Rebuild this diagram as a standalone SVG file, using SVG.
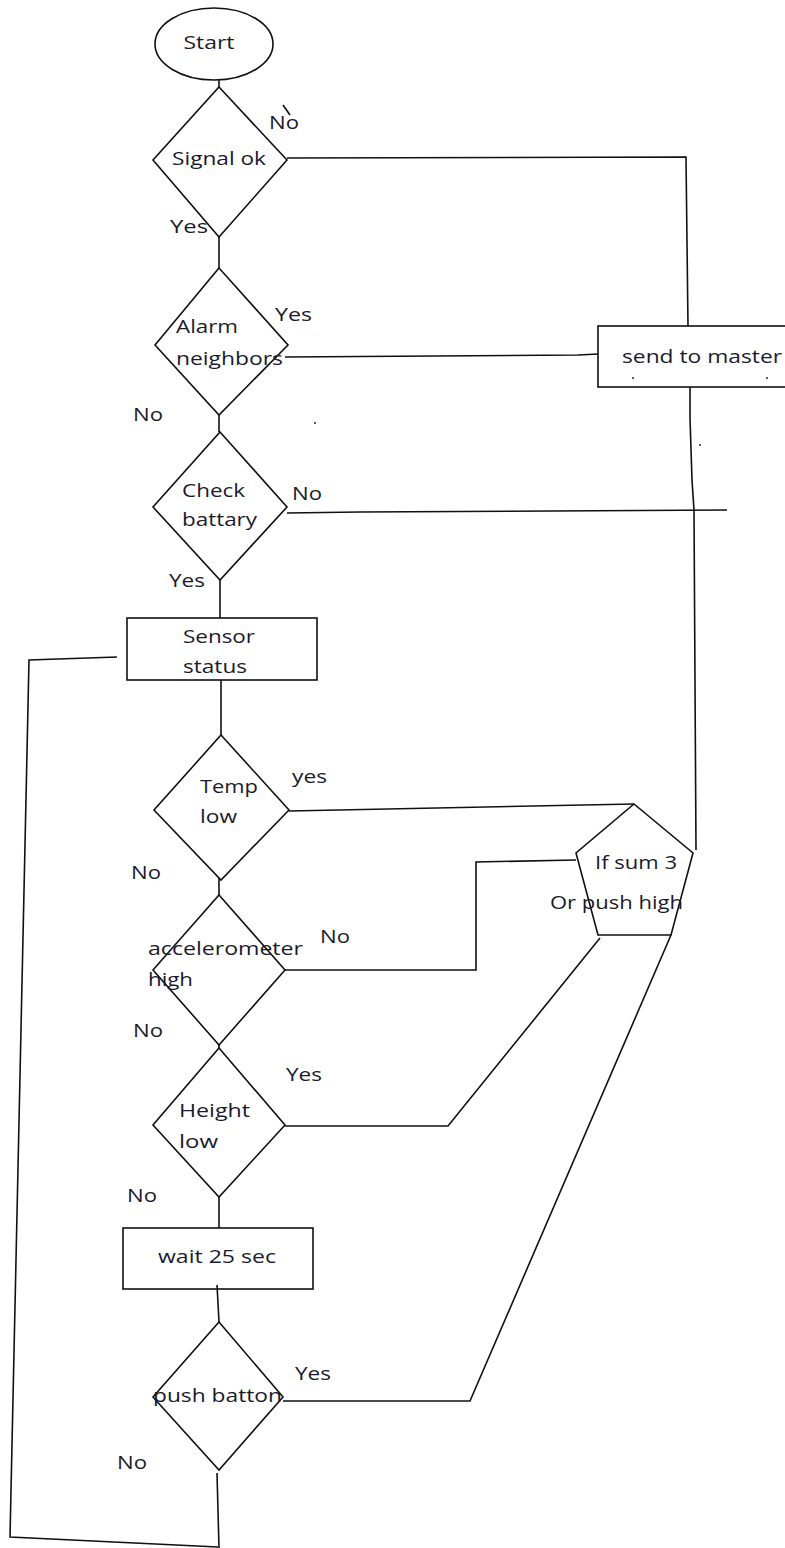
<svg xmlns="http://www.w3.org/2000/svg" width="785" height="1548" viewBox="0 0 785 1548">
<style>
.s{fill:none;stroke:#111;stroke-width:1.6;stroke-linejoin:miter}
.t{font-family:"Open Sans","Liberation Sans",sans-serif;font-size:19px;fill:#1a1a2e}
.c{text-anchor:middle}
</style>
<rect width="785" height="1548" fill="#fff"/>
<g id="connectors" class="s">
<path d="M219 80 V87"/>
<path d="M287 158 L686 157 L688 326"/>
<path d="M219 237 V268"/>
<path d="M285 357 L578 355 L598 354"/>
<path d="M219 415 V432"/>
<path d="M287 513 L360 512 L727 510"/>
<path d="M690 387 L690 418 L692 480 L694 510 L696 850"/>
<path d="M220 580 V618"/>
<path d="M117 657 L29 660 L10 1537 L218 1547"/>
<path d="M221 680 V735"/>
<path d="M289 811 L634 804"/>
<path d="M219 878 V895"/>
<path d="M285 970 L476 970 L476 862 L576 860"/>
<path d="M219 1045 V1048"/>
<path d="M285 1126 L448 1126 L600 938"/>
<path d="M219 1197 V1228"/>
<path d="M217 1285 L219 1322"/>
<path d="M283 1401 L470 1401 L671 935"/>
<path d="M217 1473 L219 1548"/>
<path d="M283 105 L290 115"/>
</g>
<g id="start">
<ellipse class="s" cx="214" cy="44" rx="59" ry="36"/>
<text class="t c" x="209" y="49" textLength="51" lengthAdjust="spacingAndGlyphs">Start</text>
</g>
<g id="signal-ok">
<polygon class="s" points="219,87 287,160 219,237 153,160"/>
<text class="t c" x="219" y="165" textLength="94" lengthAdjust="spacingAndGlyphs">Signal ok</text>
</g>
<g id="alarm-neighbors">
<polygon class="s" points="219,268 288,345 219,415 155,345"/>
<text class="t" x="176" y="333" textLength="62" lengthAdjust="spacingAndGlyphs">Alarm</text>
<text class="t" x="176" y="365" textLength="107" lengthAdjust="spacingAndGlyphs">neighbors</text>
</g>
<g id="check-battary">
<polygon class="s" points="220,432 287,507 220,580 153,507"/>
<text class="t" x="182" y="497" textLength="63" lengthAdjust="spacingAndGlyphs">Check</text>
<text class="t" x="182" y="526" textLength="75" lengthAdjust="spacingAndGlyphs">battary</text>
</g>
<g id="send-to-master">
<rect class="s" x="598" y="326" width="200" height="61"/>
<text class="t" x="622" y="363" textLength="160" lengthAdjust="spacingAndGlyphs">send to master</text>
</g>
<g id="sensor-status">
<rect class="s" x="127" y="618" width="190" height="62"/>
<text class="t" x="183" y="643" textLength="72" lengthAdjust="spacingAndGlyphs">Sensor</text>
<text class="t" x="183" y="673" textLength="64" lengthAdjust="spacingAndGlyphs">status</text>
</g>
<g id="temp-low">
<polygon class="s" points="221,735 289,810 221,880 154,810"/>
<text class="t" x="200" y="793" textLength="58" lengthAdjust="spacingAndGlyphs">Temp</text>
<text class="t" x="200" y="823" textLength="37" lengthAdjust="spacingAndGlyphs">low</text>
</g>
<g id="if-sum">
<polygon class="s" points="634,804 693,853 671,935 598,935 576,853"/>
<text class="t" x="595" y="869" textLength="82" lengthAdjust="spacingAndGlyphs">If sum 3</text>
<text class="t" x="550" y="909" textLength="133" lengthAdjust="spacingAndGlyphs">Or push high</text>
</g>
<g id="accelerometer-high">
<polygon class="s" points="219,895 285,970 219,1045 153,970"/>
<text class="t" x="148" y="955" textLength="155" lengthAdjust="spacingAndGlyphs">accelerometer</text>
<text class="t" x="148" y="986" textLength="45" lengthAdjust="spacingAndGlyphs">high</text>
</g>
<g id="height-low">
<polygon class="s" points="219,1048 285,1125 219,1197 153,1125"/>
<text class="t" x="179" y="1117" textLength="71" lengthAdjust="spacingAndGlyphs">Height</text>
<text class="t" x="179" y="1148" textLength="39" lengthAdjust="spacingAndGlyphs">low</text>
</g>
<g id="wait">
<rect class="s" x="123" y="1228" width="190" height="61"/>
<text class="t" x="158" y="1263" textLength="118" lengthAdjust="spacingAndGlyphs">wait 25 sec</text>
</g>
<g id="push-batton">
<polygon class="s" points="219,1322 283,1397 219,1470 153,1397"/>
<text class="t" x="153" y="1402" textLength="129" lengthAdjust="spacingAndGlyphs">push batton</text>
</g>
<g id="labels">
<text class="t" x="269" y="129" textLength="30" lengthAdjust="spacingAndGlyphs">No</text>
<text class="t" x="170" y="233" textLength="38" lengthAdjust="spacingAndGlyphs">Yes</text>
<text class="t" x="275" y="321" textLength="37" lengthAdjust="spacingAndGlyphs">Yes</text>
<text class="t" x="133" y="421" textLength="30" lengthAdjust="spacingAndGlyphs">No</text>
<text class="t" x="292" y="500" textLength="30" lengthAdjust="spacingAndGlyphs">No</text>
<text class="t" x="169" y="587" textLength="36" lengthAdjust="spacingAndGlyphs">Yes</text>
<text class="t" x="292" y="783" textLength="35" lengthAdjust="spacingAndGlyphs">yes</text>
<text class="t" x="131" y="879" textLength="30" lengthAdjust="spacingAndGlyphs">No</text>
<text class="t" x="320" y="943" textLength="30" lengthAdjust="spacingAndGlyphs">No</text>
<text class="t" x="133" y="1037" textLength="30" lengthAdjust="spacingAndGlyphs">No</text>
<text class="t" x="286" y="1081" textLength="36" lengthAdjust="spacingAndGlyphs">Yes</text>
<text class="t" x="127" y="1202" textLength="30" lengthAdjust="spacingAndGlyphs">No</text>
<text class="t" x="295" y="1380" textLength="36" lengthAdjust="spacingAndGlyphs">Yes</text>
<text class="t" x="117" y="1469" textLength="30" lengthAdjust="spacingAndGlyphs">No</text>
</g>
<g id="specks" fill="#111">
<circle cx="633" cy="378" r="0.9"/>
<circle cx="767" cy="378" r="0.9"/>
<circle cx="700" cy="445" r="0.9"/>
<circle cx="315" cy="423" r="0.9"/>
</g>
</svg>
